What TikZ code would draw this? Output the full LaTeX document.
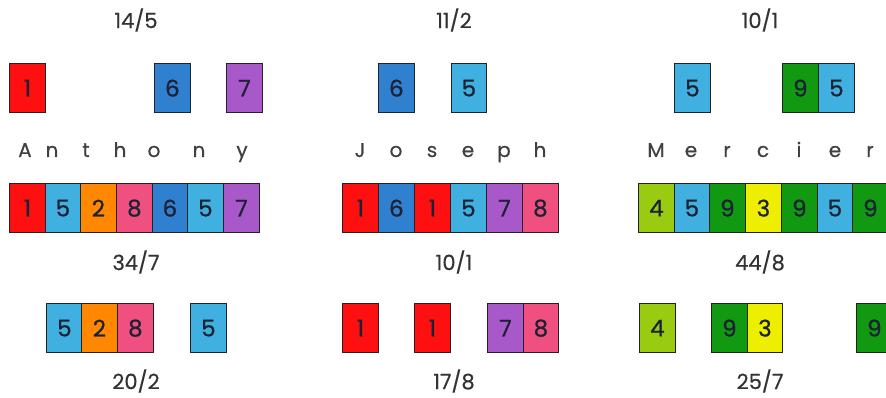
\documentclass[tikz,border=0pt]{standalone}
\usepackage{fontspec}
\setmainfont{Poppins}
\newfontfamily\digitfont[FakeBold=0.8]{Poppins}
\newfontfamily\letterfont[FakeBold=0.5]{Poppins}
\definecolor{cred}{HTML}{FF1010}
\definecolor{clblue}{HTML}{40B0E0}
\definecolor{corange}{HTML}{FF8800}
\definecolor{cpink}{HTML}{F05080}
\definecolor{cblue}{HTML}{3080D0}
\definecolor{cpurple}{HTML}{A858C8}
\definecolor{cgreen}{HTML}{119911}
\definecolor{clime}{HTML}{99CC11}
\definecolor{cyellow}{HTML}{EEEE00}
\definecolor{digit}{HTML}{1C2233}
\definecolor{edge}{HTML}{222222}
\definecolor{letter}{HTML}{404040}
\newcommand\cellbox[5]{\node[cellnode, fill=#4] (#1) at (#2,#3) {#5};}
\newcommand\ltr[3]{\node[letternode] (#1) at (#2,157) {#3};}
\begin{document}
\begin{tikzpicture}[x=1pt,y=-1pt,
  cellnode/.style={draw=edge, line width=1.3pt, anchor=north west, inner sep=0pt,
    minimum width=35.5pt, minimum height=49pt, text=digit, font=\digitfont\fontsize{23}{23}\selectfont},
  letternode/.style={text=letter, font=\letterfont\fontsize{20}{20}\selectfont, inner sep=0pt, anchor=base},
  labelnode/.style={text=black!80, font=\letterfont\fontsize{21}{21}\selectfont, inner sep=0pt}]
\useasboundingbox (0,0) rectangle (886,398);
% top labels
\node[labelnode] (t1) at (136,20) {14/5};
\node[labelnode] (t2) at (454,20) {11/2};
\node[labelnode] (t3) at (760,20) {10/1};
% top row
\cellbox{ta1}{9}{63}{cred}{1}
\cellbox{ta2}{154}{63}{cblue}{6}
\cellbox{ta3}{226}{63}{cpurple}{7}
\cellbox{tj1}{378}{63}{cblue}{6}
\cellbox{tj2}{450.5}{63}{clblue}{5}
\cellbox{tm1}{674}{63}{clblue}{5}
\cellbox{tm2}{782}{63}{cgreen}{9}
\cellbox{tm3}{818}{63}{clblue}{5}
% names
\ltr{a1}{25}{A}
\ltr{a2}{52}{n}
\ltr{a3}{86}{t}
\ltr{a4}{120}{h}
\ltr{a5}{154}{o}
\ltr{a6}{199}{n}
\ltr{a7}{242}{y}
\ltr{j1}{360}{J}
\ltr{j2}{396}{o}
\ltr{j3}{432}{s}
\ltr{j4}{468}{e}
\ltr{j5}{504}{p}
\ltr{j6}{540}{h}
\ltr{m1}{656}{M}
\ltr{m2}{691}{e}
\ltr{m3}{727}{r}
\ltr{m4}{763}{c}
\ltr{m5}{799}{i}
\ltr{m6}{835}{e}
\ltr{m7}{870}{r}
% middle rows
\cellbox{ma1}{9}{183}{cred}{1}
\cellbox{ma2}{44.5}{183}{clblue}{5}
\cellbox{ma3}{80}{183}{corange}{2}
\cellbox{ma4}{116}{183}{cpink}{8}
\cellbox{ma5}{151.5}{183}{cblue}{6}
\cellbox{ma6}{187}{183}{clblue}{5}
\cellbox{ma7}{223}{183}{cpurple}{7}
\cellbox{mj1}{342}{183}{cred}{1}
\cellbox{mj2}{378}{183}{cblue}{6}
\cellbox{mj3}{414}{183}{cred}{1}
\cellbox{mj4}{450}{183}{clblue}{5}
\cellbox{mj5}{486}{183}{cpurple}{7}
\cellbox{mj6}{522}{183}{cpink}{8}
\cellbox{mm1}{638}{183}{clime}{4}
\cellbox{mm2}{673.5}{183}{clblue}{5}
\cellbox{mm3}{709}{183}{cgreen}{9}
\cellbox{mm4}{745}{183}{cyellow}{3}
\cellbox{mm5}{781}{183}{cgreen}{9}
\cellbox{mm6}{816.5}{183}{clblue}{5}
\cellbox{mm7}{852}{183}{cgreen}{9}
% middle labels
\node[labelnode] (l1) at (136,262) {34/7};
\node[labelnode] (l2) at (454,262) {10/1};
\node[labelnode] (l3) at (760,262) {44/8};
% bottom row
\cellbox{ba1}{46}{303}{clblue}{5}
\cellbox{ba2}{81}{303}{corange}{2}
\cellbox{ba3}{117}{303}{cpink}{8}
\cellbox{ba4}{190}{303}{clblue}{5}
\cellbox{bj1}{342}{303}{cred}{1}
\cellbox{bj2}{414}{303}{cred}{1}
\cellbox{bj3}{487}{303}{cpurple}{7}
\cellbox{bj4}{522.5}{303}{cpink}{8}
\cellbox{bm1}{639}{303}{clime}{4}
\cellbox{bm2}{711}{303}{cgreen}{9}
\cellbox{bm3}{746.5}{303}{cyellow}{3}
\cellbox{bm4}{856}{303}{cgreen}{9}
% bottom labels
\node[labelnode] (b1) at (136,381) {20/2};
\node[labelnode] (b2) at (454,381) {17/8};
\node[labelnode] (b3) at (760,381) {25/7};
\end{tikzpicture}
\end{document}
